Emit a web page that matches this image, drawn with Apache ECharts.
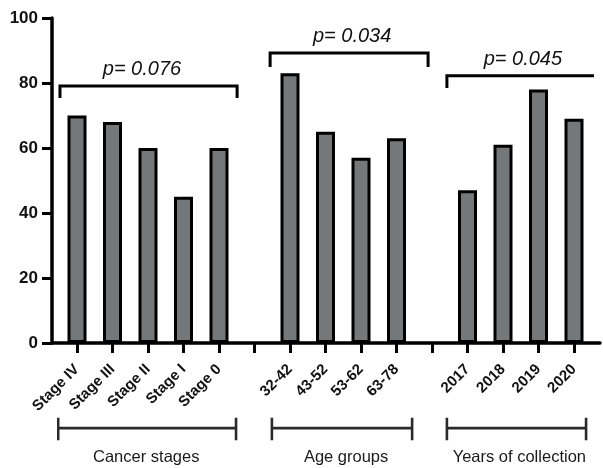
<!DOCTYPE html>
<html>
<head>
<meta charset="utf-8">
<script src="https://cdn.jsdelivr.net/npm/echarts@6/dist/echarts.min.js"></script>
<style>html,body{margin:0;padding:0;background:#fff}#c{width:603px;height:468px}</style>
</head>
<body>
<div id="c"></div>
<script>
// ---- data ----
var categories = ['Stage IV','Stage III','Stage II','Stage I','Stage 0','', '32-42','43-52','53-62','63-78','', '2017','2018','2019','2020'];
var values = [70, 68, 60, 45, 60, null, 83, 65, 57, 63, null, 47, 61, 78, 69];
var yTicks = [0, 20, 40, 60, 80, 100];
var pLabels = ['p= 0.076', 'p= 0.034', 'p= 0.045'];
var groupNames = ['Cancer stages', 'Age groups', 'Years of collection'];

// ---- annotation geometry (in axis units: category index, value) ----
var pBrackets = [
  {x0: -0.48, x1: 4.51, y: 79.1, yc: 75.4, tx: 1.83, ty: 84.2},
  {x0: 5.44, x1: 9.89, y: 89.2, yc: 84.9, tx: 7.75, ty: 94.3},
  {x0: 10.42, x1: 14.8, y: 82.2, yc: 78.5, tx: 12.56, ty: 87.4}
];
var gBrackets = [
  {x0: -0.53, x1: 4.48, tx: 1.95},
  {x0: 5.49, x1: 9.44, tx: 7.58},
  {x0: 10.42, x1: 14.34, tx: 12.46}
];
var gY = -26.2, gYtop = -23.0, gYbot = -29.9, gTextY = -35.2;

var FONT = 'Liberation Sans, Arial, Helvetica, sans-serif';
var series = [];
series.push({
  type: 'bar', xAxisIndex: 0, yAxisIndex: 0, data: values, barWidth: 19,
  itemStyle: {color: '#75787a', borderColor: '#000', borderWidth: 3},
  z: 2, silent: true
});
pBrackets.forEach(function (b, i) {
  series.push({
    type: 'line', xAxisIndex: 1, yAxisIndex: 0, clip: false, symbol: 'none', silent: true,
    lineStyle: {color: '#000', width: 3, cap: 'butt', join: 'miter'},
    data: [[b.x0, b.yc], [b.x0, b.y], [b.x1, b.y], [b.x1, b.yc]], z: 5
  });
  series.push({
    type: 'scatter', xAxisIndex: 1, yAxisIndex: 0, clip: false, symbolSize: 0, silent: true,
    itemStyle: {opacity: 1},
    data: [{value: [b.tx, b.ty], name: pLabels[i]}],
    label: {show: true, position: 'inside', formatter: '{b}', color: '#111', textBorderWidth: 0, fontSize: 20, fontStyle: 'italic', fontFamily: FONT}
  });
});
gBrackets.forEach(function (b, i) {
  series.push({
    type: 'line', xAxisIndex: 1, yAxisIndex: 0, clip: false, symbol: 'none', silent: true,
    lineStyle: {color: '#2a2a2a', width: 2.6},
    data: [[b.x0, gYtop], [b.x0, gYbot], [b.x0, gY], [b.x1, gY], [b.x1, gYtop], [b.x1, gYbot]], z: 5
  });
  series.push({
    type: 'scatter', xAxisIndex: 1, yAxisIndex: 0, clip: false, symbolSize: 0, silent: true,
    itemStyle: {opacity: 1},
    data: [{value: [b.tx, gTextY], name: groupNames[i]}],
    label: {show: true, position: 'inside', formatter: '{b}', color: '#1a1a1a', textBorderWidth: 0, fontSize: 16.5, fontFamily: FONT}
  });
});

var chart = echarts.init(document.getElementById('c'), null, {renderer: 'canvas'});
chart.setOption({
  animation: false,
  backgroundColor: '#fff',
  grid: [
    {left: 59.25, right: 11.25, top: 18, bottom: 125},
    {left: 52, right: 3, top: 18, bottom: 125}
  ],
  xAxis: [
    {type: 'category', gridIndex: 0, data: categories,
     axisLine: {show: false},
     axisTick: {show: true, alignWithLabel: true, length: 10, lineStyle: {color: '#000', width: 3}},
     axisLabel: {rotate: 45, interval: 0, margin: 24, fontSize: 15, fontWeight: 'bold', color: '#111', fontFamily: FONT}},
    {type: 'value', gridIndex: 0, min: -0.5, max: 14.5, show: false},
    {type: 'value', gridIndex: 1, min: 0, max: 1, z: 4,
     axisLine: {show: true, lineStyle: {color: '#000', width: 3.5}},
     axisTick: {show: false}, axisLabel: {show: false}, splitLine: {show: false}}
  ],
  yAxis: [
    {type: 'value', gridIndex: 0, min: 0, max: 100, show: false},
    {type: 'value', gridIndex: 1, min: yTicks[0], max: yTicks[yTicks.length - 1], interval: 20, z: 4,
     axisLine: {show: true, lineStyle: {color: '#000', width: 3.5}},
     axisTick: {show: true, length: 10, lineStyle: {color: '#000', width: 3}},
     axisLabel: {margin: 14, fontSize: 17, fontWeight: 'bold', color: '#111', fontFamily: FONT},
     splitLine: {show: false}}
  ],
  series: series
});
</script>
</body>
</html>
